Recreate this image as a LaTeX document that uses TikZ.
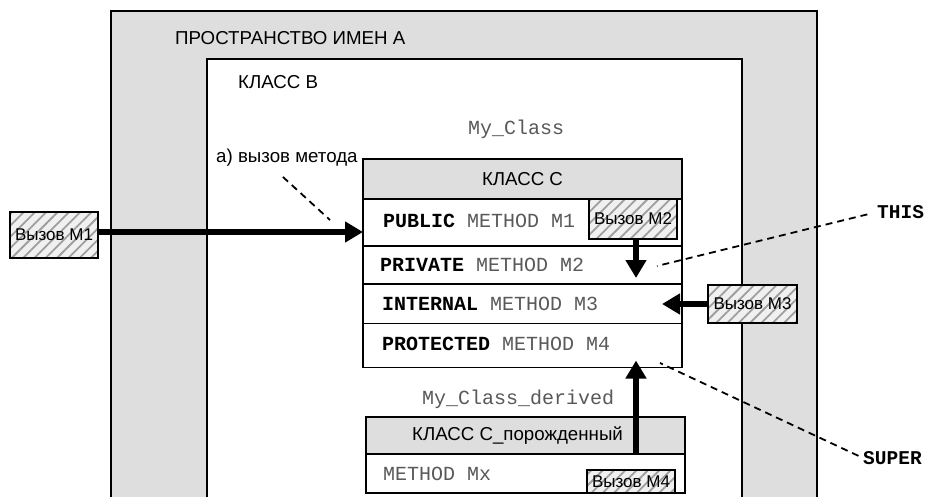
\documentclass[tikz,border=0pt]{standalone}
\usepackage{fontspec}
\setmainfont{Liberation Sans}
\newfontfamily\monofont{Liberation Mono}
\usetikzlibrary{arrows.meta,patterns.meta}

\definecolor{boxgray}{gray}{0.87}
\definecolor{hatchgray}{gray}{0.62}
\definecolor{methodgray}{gray}{0.35}

\tikzset{
  box/.style={draw,line width=1.5pt,inner sep=0pt,outer sep=0pt,anchor=north west},
  callbox/.style={box,font=\fontsize{17}{19}\selectfont,
    preaction={fill=gray!12},
    pattern={Lines[angle=45,distance=8pt,line width=1.8pt]},pattern color=hatchgray},
  sanslbl/.style={font=\fontsize{18.7}{21}\selectfont,inner sep=0pt},
  monolbl/.style={font=\monofont\fontsize{20}{22}\selectfont,inner sep=0pt},
  bigarrow/.style={line width=6pt,-{Triangle[length=18pt,width=20pt]}},
  leader/.style={line width=1.8pt,dash pattern=on 7pt off 5pt}
}

\begin{document}
\begin{tikzpicture}[x=1pt,y=-1pt]
\clip (0,0) rectangle (926,496);
\fill[white] (0,0) rectangle (926,496);
% namespace and class B
\node[box,fill=boxgray,minimum width=706pt,minimum height=540pt] (nsA) at (111,11) {};
\node[box,fill=white,minimum width=535pt,minimum height=500pt] (classB) at (207,59) {};
\node[sanslbl,anchor=west] (nsAlbl) at (175,38) {ПРОСТРАНСТВО ИМЕН А};
\node[sanslbl,anchor=west] (classBlbl) at (238,82) {КЛАСС В};
\node[monolbl,anchor=base west,text=methodgray] (myclass) at (468,134) {My\_Class};
% class C
\node[box,fill=boxgray,minimum width=319pt,minimum height=40pt,sanslbl] (hdrC) at (363,159) {КЛАСС С};
\node[box,fill=white,minimum width=319pt,minimum height=47pt] (pub) at (hdrC.south west) {};
\node[box,fill=white,minimum width=319pt,minimum height=38pt] (priv) at (pub.south west) {};
\node[box,fill=white,minimum width=319pt,minimum height=39.5pt] (intern) at (priv.south west) {};
\node[box,fill=white,minimum width=319pt,minimum height=44pt] (prot) at (intern.south west) {};
\node[monolbl,anchor=west] (pubtxt) at ([xshift=20pt,yshift=2pt]pub.west) {\textbf{PUBLIC} \textcolor{methodgray}{METHOD M1}};
\node[monolbl,anchor=west] (privtxt) at ([xshift=17pt]priv.west) {\textbf{PRIVATE} \textcolor{methodgray}{METHOD M2}};
\node[monolbl,anchor=west] (interntxt) at ([xshift=19pt]intern.west) {\textbf{INTERNAL} \textcolor{methodgray}{METHOD M3}};
\node[monolbl,anchor=west] (prottxt) at ([xshift=19pt,yshift=2pt]prot.west) {\textbf{PROTECTED} \textcolor{methodgray}{METHOD M4}};
% derived class
\node[monolbl,anchor=base west,text=methodgray] (derivedlbl) at (422,404) {My\_Class\_derived};
\node[box,fill=boxgray,minimum width=319pt,minimum height=37pt] (dhdr) at (366,417) {};
\node[sanslbl] (dhdrtxt) at ([xshift=-8pt]dhdr.center) {КЛАСС С\_порожденный};
\node[box,fill=white,minimum width=319pt,minimum height=39pt] (drow) at (dhdr.south west) {};
\node[monolbl,anchor=west,text=methodgray] (drowtxt) at ([xshift=17pt]drow.west) {METHOD Mx};
% calls
\node[callbox,minimum width=88pt,minimum height=46pt] (call1) at (10,212) {Вызов M1};
\node[callbox,minimum width=88pt,minimum height=40pt] (call2) at (589,199) {Вызов M2};
\node[callbox,minimum width=89pt,minimum height=38pt] (call3) at (708,285) {Вызов M3};
\node[callbox,minimum width=88pt,minimum height=23pt] (call4) at (587,470) {Вызов M4};
\draw[bigarrow] ([yshift=3pt]call1.east) -- ([yshift=3pt]call1.east -| pub.west);
\draw[bigarrow] ([xshift=3pt]call2.south) -- ([xshift=3pt,yshift=6pt]call2.south |- priv.south);
\draw[bigarrow] (call3.west) -- ([xshift=-20pt]call3.west -| intern.east);
\draw[bigarrow] ([xshift=5pt]call4.north |- drow.north) -- ([xshift=5pt,yshift=7pt]call4.north |- prot.south);
% leaders
\node[sanslbl,anchor=west] (calllbl) at (216,158) {а) вызов метода};
\coordinate (calltip) at (330,220);
\draw[leader] ([xshift=-4pt,yshift=-10pt]calllbl.south) -- (calltip);
\node[monolbl,anchor=west,font=\monofont\bfseries\fontsize{19.5}{22}\selectfont] (thislbl) at (877,212) {THIS};
\coordinate (thispt) at (657,266);
\draw[leader,shorten <=10pt] (thislbl.west) -- (thispt);
\node[monolbl,anchor=west,font=\monofont\bfseries\fontsize{19.5}{22}\selectfont] (superlbl) at (863,458) {SUPER};
\coordinate (superpt) at (660,363);
\draw[leader,shorten <=5pt] (superlbl.west) -- (superpt);
\end{tikzpicture}
\end{document}
